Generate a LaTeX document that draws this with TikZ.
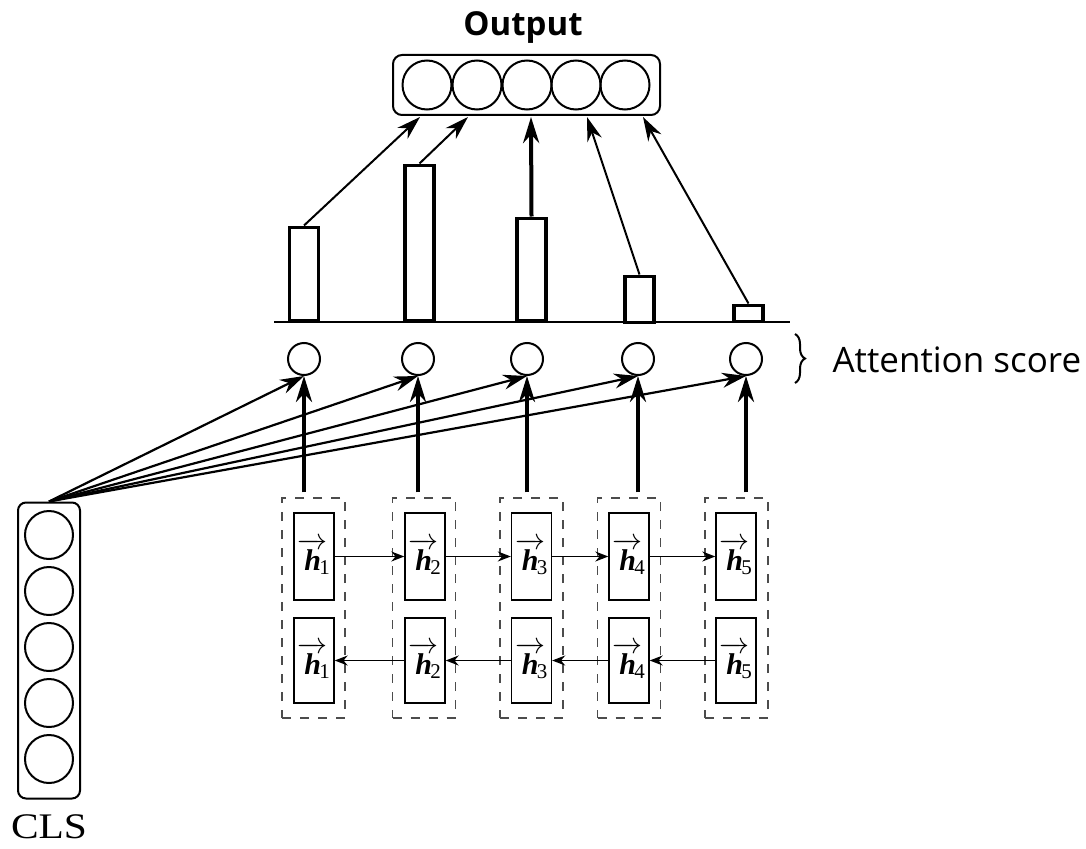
\documentclass[tikz,border=0pt]{standalone}
\usepackage{fix-cm}
\usepackage{amsmath}
\usepackage{fontspec}
\setmainfont{Liberation Serif}
\newfontfamily\labelsans{Open Sans}
\usetikzlibrary{arrows.meta,decorations.pathreplacing}

% hidden-state label: bold italic h with an arrow accent and an index
\newcommand{\hstate}[1]{$\overrightarrow{\textbf{\textit{h}}}\mkern-5mu{}_{\textrm{#1}}$}

\tikzset{
  unit/.style={circle, draw, line width=2pt, minimum size=48pt, inner sep=0pt},
  score/.style={circle, draw, line width=2pt, minimum size=32pt, inner sep=0pt},
  holder/.style={draw, line width=2pt, rounded corners=9pt, inner sep=0pt},
  bar/.style={draw, line width=3.5pt, minimum width=29pt, inner sep=0pt, anchor=south},
  cell/.style={draw, line width=1.4pt, minimum width=40pt, inner sep=0pt,
    font=\fontsize{30}{34}\selectfont},
  dashbox/.style={draw=black!70, line width=1.4pt, dash pattern=on 9pt off 9pt,
    minimum width=63pt, minimum height=220pt, inner sep=0pt},
  feed/.style={line width=2.2pt, -{Stealth[length=24pt,width=15pt]}},
  lift/.style={line width=4pt, -{Stealth[length=26pt,width=16pt]}},
  weigh/.style={line width=2pt, -{Stealth[length=24pt,width=15pt]}},
  recur/.style={line width=1.2pt, -{Stealth[length=13pt,width=10pt]}},
}

\begin{document}
\begin{tikzpicture}[x=1pt, y=-1pt]
\useasboundingbox (0,0) rectangle (1086,848);

% ---- output vector ----
\node[font=\labelsans\bfseries\fontsize{33}{38}\selectfont] (outlbl) at (523,28) {Output};
\node[holder, minimum width=267pt, minimum height=60pt] (out) at (526.5,85) {};
\foreach \i/\x in {1/427,2/477,3/527,4/576,5/625}
  \node[unit, minimum size=49pt] (o\i) at (\x,85) {};
\foreach \i/\x in {1/420,2/468,3/531,4/587,5/643}
  \coordinate (tip\i) at (\x,117);

% ---- attention weights as bars ----
\coordinate (axisL) at (274,322);
\coordinate (axisR) at (790,322);
\draw[line width=2pt] (axisL) -- (axisR);
\node[bar, minimum height=93pt] (bar1) at (304,322) {};
\node[bar, minimum height=155pt] (bar2) at (419.5,322) {};
\node[bar, minimum height=102pt] (bar3) at (531.5,322) {};
\node[bar, minimum height=46pt]  (bar4) at (639.5,324) {};
\node[bar, minimum height=16pt]  (bar5) at (748.5,323) {};

\draw[weigh] (bar1.north) -- (tip1);
\draw[weigh] (bar2.north) -- (tip2);
\draw[lift]  (bar3.north) -- (tip3);
\draw[weigh] (bar4.north) -- (tip4);
\draw[weigh] (bar5.north) -- (tip5);

% ---- attention scores ----
\foreach \i/\x in {1/304,2/418,3/527,4/638,5/746}
  \node[score] (s\i) at (\x,359) {};
\draw[line width=2pt, decorate, decoration={brace, amplitude=10pt}]
  (795,334) coordinate (brA) -- (795,383) coordinate (brB);
\node[anchor=west, font=\labelsans\fontsize{35}{40}\selectfont] (attlbl) at (829,360) {Attention score};

% ---- bidirectional recurrent layer ----
\foreach \i/\x/\dx in {1/314/313.5,2/425/424,3/531.5/531.5,4/629/629,5/736/736.5}{
  \node[dashbox] (d\i) at (\dx,608) {};
  \node[cell, minimum height=87pt] (f\i) at (\x,556.5) {\hstate{\i}};
  \node[cell, minimum height=85pt] (r\i) at (\x,660.5) {\hstate{\i}};
}
\foreach \a/\b in {1/2,2/3,3/4,4/5}{
  \draw[recur] (f\a) -- (f\b);
  \draw[recur] (r\b) -- (r\a);
}

% ---- CLS vector ----
\node[holder, rounded corners=8pt, minimum width=62pt, minimum height=296pt] (cls) at (49,650.5) {};
\foreach \i/\y in {1/535,2/591,3/647,4/703,5/759}
  \node[unit] (c\i) at (49,\y) {};
\node[font=\fontsize{36}{40}\selectfont, xscale=1.15, inner sep=0pt, anchor=base] (clslbl) at (49,838) {CLS};

% ---- CLS queries every hidden state ----
\foreach \i in {1,...,5}
  \draw[feed] (cls.north) -- (s\i.south);

% ---- hidden states feed the scores ----
\foreach \i in {1,...,5}
  \draw[lift] ([yshift=5pt]s\i.south |- d\i.north) -- (s\i.south);

\end{tikzpicture}
\end{document}
